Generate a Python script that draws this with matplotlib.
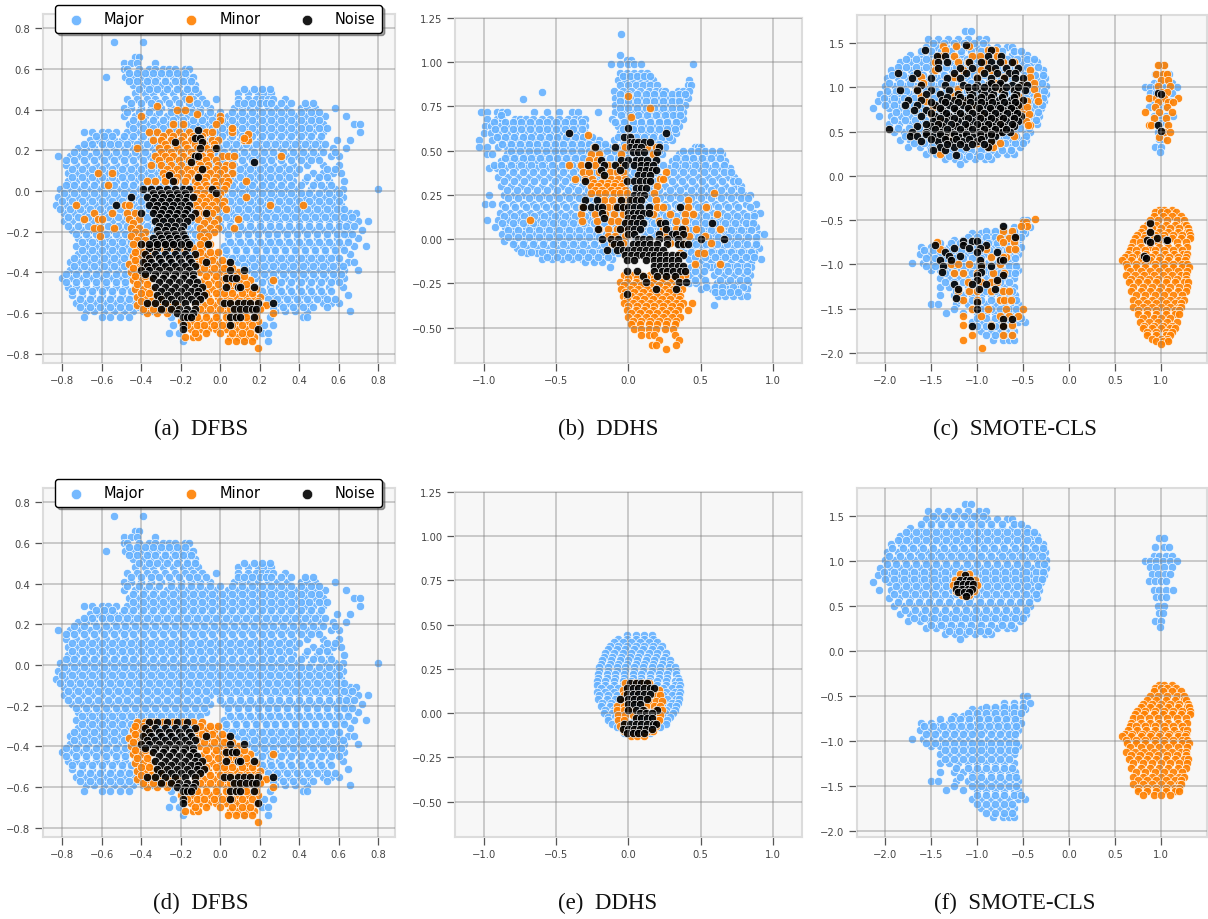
import matplotlib
matplotlib.use("Agg")
import matplotlib.pyplot as plt

BLUE = "#66b2ff"
ORANGE = "#ff8000"
BLACK = "#000000"

MAJOR_AD = [
(73,[-54,-39]),(66,[-43,-41]),(63,[-49,-45,-42,-33]),
(60,[-49,-47,-41,-36,-33,-29,-26,-23,-18,-16]),
(56,[-58,-48,-44,-40,-36,-32,-28,-24,-20,-16,-14]),
(52,[-44,-39,-35,-30,-26,-21,-17,-13]),
(48,[-43,-38,-34,-29,-24,-19,-15,-11,9,14,19,22,26]),
(45,[-47,-42,-37,-33,-28,-23,-18,-14,-9,-2,9,14,18,21,24,27,33]),
(41,[-49,-45,-40,-35,-30,-25,-20,-15,-10,-5,7,11,15,19,24,29,34,41,44,48,58]),
(37,[-49,-43,-38,-33,-27,-22,-17,-12,-7,-2,4,9,13,18,23,28,33,38,43,48,53,64]),
(33,[-46,-41,-36,-31,-26,-21,-16,-11,-6,-2,3,8,13,18,23,28,33,38,43,48,52,68,71]),
(29,[-69,-65,-60,-57,-53,-47,-42,-37,-32,-27,-22,-17,-12,-7,-2,3,8,13,18,23,28,33,38,43,47,52,71]),
(25,[-66,-62,-58,-54,-50,-45,-40,-35,-30,-25,-20,-15,-10,-5,0,5,10,15,20,25,30,35,40,45,50,59,66]),
(21,[-72,-68,-64,-59,-54,-49,-44,-39,-34,-29,-24,-19,-14,-9,-4,1,6,11,16,21,26,31,36,41,46,51,57,64]),
(17,[-82,-76,-71,-66,-61,-56,-51,-46,-41,-36,-31,-26,-21,-16,-11,-6,-1,4,9,14,19,24,29,34,39,44,49,56,60]),
(13,[-78,-73,-68,-63,-58,-53,-48,-43,-38,-33,-28,-23,-18,-13,-8,-3,2,7,12,17,22,27,32,37,44,52,60]),
(9,[-77,-72,-67,-62,-57,-52,-47,-42,-37,-32,-27,-22,-17,-12,-7,-2,3,8,13,18,23,28,33,38,47,52,57,61]),
(5,[-77,-73,-68,-63,-58,-53,-48,-43,-38,-33,-28,-23,-18,-13,-8,-3,2,7,12,17,22,27,32,37,43,49,55,63]),
(1,[-81,-76,-71,-66,-61,-56,-51,-46,-41,-36,-31,-26,-21,-16,-11,-6,-1,4,9,14,19,24,29,34,39,46,53,58,62,80]),
(-3,[-82,-77,-72,-67,-62,-57,-52,-47,-42,-37,-32,-27,-22,-17,-12,-7,-2,3,8,13,18,23,28,33,38,43,48,53,58,62]),
(-7,[-83,-78,-73,-68,-63,-58,-53,-48,-43,-38,-33,-28,-23,-18,-13,-8,-3,2,7,12,17,22,27,32,37,42,47,52,57,61]),
(-11,[-79,-74,-69,-64,-59,-54,-49,-44,-39,-34,-29,-24,-19,-14,-9,-4,1,6,11,16,21,26,31,36,41,46,51,56,61,66,69]),
(-15,[-79,-75,-70,-65,-60,-55,-50,-45,-40,-35,-30,-25,-20,-15,-10,-5,0,5,10,15,20,25,30,35,40,45,50,55,60,65,70,75]),
(-19,[-75,-70,-65,-60,-55,-50,-45,-40,-35,-30,-25,-20,-15,-10,-5,2,7,12,17,22,27,32,37,42,47,52,57,62,66,72]),
(-23,[-72,-67,-62,-57,-52,-47,-42,-37,-32,-27,-22,-17,-12,-7,4,9,14,19,24,29,34,39,44,49,54,59,65,70]),
(-27,[-73,-68,-63,-58,-53,-48,-43,-38,-33,-28,-23,-18,-13,2,7,12,17,22,27,32,37,42,47,52,57,62,68,74]),
(-31,[-72,-67,-62,-57,-52,-47,-42,-37,-32,-27,-22,-17,-12,-7,-2,3,8,13,18,23,28,33,38,43,48,53,58,66]),
(-35,[-76,-71,-66,-61,-56,-51,-46,-41,-36,-31,-26,-21,-16,-11,-6,-1,4,9,14,19,24,29,34,39,44,49,54,60,65,68]),
(-39,[-76,-72,-67,-62,-57,-52,-47,-42,-37,-12,15,20,25,30,35,40,45,50,55,60,63,70]),
(-43,[-80,-75,-70,-65,-60,-55,-50,-45,-40,18,23,28,33,38,43,48,53,58,63]),
(-47,[-77,-73,-68,-63,-58,-53,-48,-43,20,25,30,35,40,45,50,55,62]),
(-51,[-75,-70,-65,-60,-55,-50,-45,22,27,32,37,42,47,52,65]),
(-55,[-73,-68,-63,-58,-53,-48,-43,25,30,35,40,45,52,56,60]),
(-59,[-68,-64,-59,-54,-49,-44,-39,-34,28,33,38,44,66]),
(-62,[-69,-60,-56,-51,-46,-25,-20,-16,25,42,44]),
(-66,[-24,-18,22,27]),(-70,[-26,-21,21,24]),(-74,[-19,12,24]),
]
MAJOR_AD_FILL = [
(58,[-46,-42,-38,-34,-30,-26,-22,-18]),
(54,[-46,-42,-37,-33,-28,-23,-19,-15]),
(50,[-41,-36,-32,-27,-22,-17,-13,12,17,21,25]),
(43,[-45,-40,-35,-31,-26,-21,-16,-12,-7,9,12,16,20,23,26,31,36,43,47]),
(39,[-47,-41,-36,-31,-25,-20,-15,-10,-5,0,6,11,16,21,26,31,36,41,46,50]),
(35,[-44,-39,-34,-29,-24,-19,-14,-9,-4,1,6,11,16,21,26,31,36,41,46,50]),
(31,[-44,-39,-34,-29,-24,-19,-14,-9,-4,1,6,11,16,21,26,31,36,41,45,50,54]),
(27,[-63,-59,-55,-49,-44,-39,-34,-29,-24,-19,-14,-9,-4,1,6,11,16,21,26,31,36,41,46,51]),
(23,[-69,-65,-60,-56,-52,-47,-42,-37,-32,-27,-22,-17,-12,-7,-2,3,8,13,18,23,28,33,38,43,48,53]),
(19,[-74,-69,-63,-58,-53,-48,-43,-38,-33,-28,-23,-18,-13,-8,-3,2,7,12,17,22,27,32,37,42,47,52,58]),
(15,[-78,-74,-69,-64,-59,-54,-49,-44,-39,-34,-29,-24,-19,-14,-9,-4,1,6,11,16,21,26,31,36,41,46,50]),
(11,[-75,-70,-65,-60,-55,-50,-45,-40,-35,-30,-25,-20,-15,-10,-5,0,5,10,15,20,25,30,35,40,54,58]),
(7,[-75,-70,-65,-60,-55,-50,-45,-40,-35,-30,-25,-20,-15,-10,-5,0,5,10,15,20,25,30,35,44,50,54]),
(3,[-78,-74,-69,-64,-59,-54,-49,-44,-39,-34,-29,-24,-19,-14,-9,-4,1,6,11,16,21,26,31,36,41,47,51,56]),
(-1,[-79,-74,-69,-64,-59,-54,-49,-44,-39,-34,-29,-24,-19,-14,-9,-4,1,6,11,16,21,26,31,36,41,45,50,55,60]),
(-5,[-80,-75,-70,-65,-60,-55,-50,-45,-40,-35,-30,-25,-20,-15,-10,-5,0,5,10,15,20,25,30,35,40,45,50,55,60]),
(-9,[-81,-76,-71,-66,-61,-56,-51,-46,-41,-36,-31,-26,-21,-16,-11,-6,-1,4,9,14,19,24,29,34,39,44,49,54,59,63]),
(-13,[-77,-72,-67,-62,-57,-52,-47,-42,-37,-32,-27,-22,-17,-12,-7,-2,3,8,13,18,23,28,33,38,43,48,53,58,63,67]),
(-17,[-77,-72,-67,-62,-57,-52,-47,-42,-37,-32,-27,-22,-17,-12,-7,0,5,10,15,20,25,30,35,40,45,50,55,60,64,68]),
(-21,[-73,-68,-63,-58,-53,-48,-43,-38,-33,-28,-23,-18,-13,-8,4,9,14,19,24,29,34,39,44,49,54,59,63,67]),
(-25,[-70,-65,-60,-55,-50,-45,-40,-35,-30,-25,-20,-15,-10,5,10,15,20,25,30,35,40,45,50,55,60,65]),
(-29,[-70,-65,-60,-55,-50,-45,-40,-35,-30,-25,-20,-15,-10,3,8,13,18,23,28,33,38,43,48,53,58,63]),
(-33,[-74,-69,-64,-59,-54,-49,-44,-39,6,11,16,21,26,31,36,41,46,51,56,60]),
(-37,[-74,-69,-64,-59,-54,-49,-44,-39,12,17,22,27,32,37,42,47,52,57,62]),
(-41,[-78,-73,-68,-63,-58,-53,-48,-43,17,22,27,32,37,42,47,52,57,61]),
(-45,[-78,-73,-68,-63,-58,-53,-48,-43,21,26,31,36,41,46,51,56,60]),
(-49,[-75,-70,-65,-60,-55,-50,-45,21,26,31,36,41,46,51,56]),
(-53,[-71,-66,-61,-56,-51,-46,-41,24,29,34,39,44,49,54,58]),
(-57,[-71,-66,-61,-56,-51,-46,-41,-36,27,32,37,42,47,54]),
]
ORANGE_AD_LOW = [
(-28,[-42,-38,-34,-29,-24,-19,-14,-9]),
(-32,[-44,-40,-36,-12,-7,-3]),
(-36,[-46,-42,-38,-11,-6,-1,3]),
(-40,[-45,-41,-10,-5,0,4,9]),
(-44,[-44,-40,-36,-8,-3,1,5,10,15,27]),
(-48,[-43,-39,-35,-9,-4,0,5,10,14,18]),
(-52,[-42,-38,-34,-30,-10,-6,-1,3,8,13,17,20]),
(-56,[-42,-37,-32,-26,-22,-13,-8,-3,2,7,11,16,21,23]),
(-60,[-37,-32,-27,-12,-7,-2,3,8,13,18,27]),
(-64,[-20,-15,-10,-5,-1,4,9,14,19]),
(-68,[-15,-10,-6,-2,3,8,13,18]),
(-72,[-18,-14,-11,5,9,13,17]),
(-74,[4,8,12,16]),(-77,[19]),
(-30,[-43,-39,-10,-5,-1]),(-34,[-43,-38,-9,-4,1]),(-38,[-44,-40,-8,-3,2,6]),
(-42,[-43,-38,-7,-2,3,7,12]),(-46,[-42,-37,-6,-1,4,8,13]),(-50,[-40,-36,-7,-2,2,6,11,16]),
(-54,[-40,-35,-30,-11,-5,0,5,10,14,19]),(-58,[-39,-34,-29,-24,-10,-5,0,5,10,15,20]),
(-62,[-17,-12,-7,-2,3,8,13,18]),(-66,[-17,-12,-8,-3,1,6,11,16]),(-70,[-13,-7,0,6,11,15]),
]
ORANGE_A_UP = [
(45,[-16]),(42,[-32]),(40,[-22,-18]),(38,[-12]),(37,[-40,0]),(35,[0]),
(33,[-24,-19,-2]),
(29,[-36,-32,-26,-21,-16,-7,-4,6]),
(27,[-29,-24,-19,-14,-9]),
(25,[-34,-30,-25,-20,-15,-9,-4,-1,12,14]),
(23,[-28,-23,-18,-13,-8,-3]),
(21,[-42,-31,-27,-22,-17,-12,-7,-3]),
(19,[-30,-25,-20,-15,-10,-5]),
(17,[-33,-28,-24,-19,-14,-9,-5,1,4,7,31]),
(15,[-31,-26,-21,-16,-11,-7,-2]),
(13,[-35,-30,-25,-20,-15,-10,-6,-1,3,6]),
(11,[-27,-22,-17,-12,-7,-2,2]),
(9,[-62,-55,-29,-25,-20,-15,-10,-5,0,6]),
(7,[-28,-22,-17,-12,-7,-2,3]),
(5,[-37,-33,-28,-23,-18,-13,-8,-3,1,4,13]),
(3,[-57,-12,-7,-2,3]),
(1,[-14,-10,-6,-2,2]),
(-1,[-12,-8,-4,0]),
(-3,[-13,-9,-5,-1,13]),
(-5,[-11,-7,-2,2]),
(-7,[-73,-48,-46,-13,-8,-4,1,25,42]),
(-9,[-11,-6,-2,3]),
(-11,[-64,-55,-47,-43,-12,-8,-4]),
(-14,[-69,-62,-60,-46,-41,-11,-6,-1,9]),
(-16,[-44,-8,-3]),
(-18,[-64,-61,-54,-45,-41,-10,-5,-1,7]),
(-20,[-43,-38,-8,-3]),
(-22,[-61,-45,-40,-10,-6]),
(-24,[-42,-38,-8]),
(-26,[-44,-40,-10,-5]),
(31,[6]),(28,[14]),(26,[12]),
]
NOISE_AD_LOW = [
(-28,[-36,-32,-27,-22,-17]),
(-31,[-38,-33,-28,-23,-18,-13]),
(-33,[-36,-31,-26,-21,-16]),
(-35,[-39,-35,-30,-25,-20,-15,-7,5]),
(-37,[-37,-33,-28,-23,-18,-13]),
(-39,[-40,-36,-31,-26,-21,-16,5,12]),
(-41,[-38,-33,-28,-23,-18,-14]),
(-43,[-34,-29,-24,-19,-14,3,6,8]),
(-45,[-31,-26,-21,-16,-12]),
(-47,[-33,-28,-23,-18,-13,-9,3,9,10,17]),
(-49,[-30,-25,-20,-15,-11]),
(-51,[-32,-27,-22,-17,-12,-8]),
(-53,[-30,-25,-20,-15,-10]),
(-55,[-37,-33,-28,-23,-18,-13,2,5,9,12,15,19,27]),
(-58,[-30,-25,-21,-17,-13,7,10,13,16,18]),
(-60,[-22,-18,-14]),
(-62,[-19,-17,-15,5,8,10,17]),
(-66,[-19,5]),(-68,[-19,19]),
]
NOISE_A_UP = [
(30,[-11]),(26,[-13,-10]),(24,[-23,-9]),(21,[-10,-2]),
(17,[-13,-11]),(14,[-15,17]),(11,[-9]),(8,[-26]),(7,[-11]),(5,[-24]),
(1,[-39,-35,-31,-27,-23,-19,-16,-4]),
(-1,[-34,-30,-26,-22,-18,-2]),
(-3,[-45,-37,-33,-29,-25,-21,-17,-14]),
(-5,[-34,-30,-26,-22,-18]),
(-7,[-53,-36,-32,-28,-24,-20,-16]),
(-9,[-33,-29,-25,-21,-17]),
(-11,[-40,-34,-30,-26,-22,-18,-13,-7]),
(-13,[-31,-27,-23,-19,-15]),
(-15,[-33,-29,-25,-21,-17]),
(-17,[-31,-27,-23,-19]),
(-19,[-32,-28,-24,-20]),
(-21,[-31,-27,-23,-19]),
(-23,[-34,-30,-26,-22,-18]),
(-25,[-33,-29,-25,-21,-17]),
(-26,[-40,-36,-32,-28,-24,-20,-16,-6]),
]
MAJOR_B = [
(116,[-5]),(104,[-6]),(101,[-1,2]),(99,[-12,-6,0,4,9,45]),
(94,[-6,-1,4,9,13]),(90,[-7,-2,3,8,13,17,42]),(87,[-6,0,5,10,15,20,41,43]),
(84,[-10,-4,2,8,14,19,23,25,34,38,42]),(83,[-60]),
(80,[-9,-3,3,9,15,21,27,32,37,41]),(79,[-73]),
(76,[-9,-3,3,9,15,21,27,33,39]),
(72,[-102,-98,-91,-87,-84,-65,-56,-48,-39,-35,-21,-9,-3,3,9,15,21,27,33,38]),
(68,[-98,-91,-87,-78,-75,-71,-66,-60,-54,-48,-42,-37,-33,-30,-11,-4,3,9,15,21,27,33,38]),
(64,[-99,-95,-89,-83,-77,-71,-65,-59,-53,-47,-41,-36,-30,-7,-1,5,11,17,23,29,35]),
(60,[-100,-95,-90,-84,-78,-72,-66,-60,-54,-48,-42,-36,-30,-6,0,6,12,18,24,30,33]),
(56,[-103,-94,-88,-82,-76,-70,-64,-58,-52,-46,-40,-34,-28,-24,-20,-10,-4,2,8,14,20,26,30]),
(52,[-103,-98,-90,-84,-78,-72,-66,-60,-54,-48,-42,-36,-30,-24,-18,-14,-6,0,6,12,18,25,46,48,50]),
(48,[-98,-94,-84,-78,-72,-66,-60,-54,-48,-42,-36,-30,-24,-18,-12,-6,0,6,12,18,23,35,40,45,50,55,60,65]),
(44,[-88,-82,-76,-70,-64,-58,-52,-46,-40,-34,-28,-22,-16,-10,-4,2,8,14,20,30,36,42,48,54,60,67]),
(40,[-96,-91,-85,-78,-71,-64,-57,-50,-43,-36,-29,-22,-15,-8,-1,6,13,20,28,35,42,49,56,63,70]),
(35,[-90,-83,-76,-69,-62,-55,-48,-41,-34,-27,-20,-13,-6,1,8,15,21,27,34,41,48,55,62,69,73]),
(30,[-88,-81,-74,-67,-60,-53,-46,-39,-32,-25,-18,-11,-4,3,10,17,25,32,39,46,53,60,67,74,78]),
(25,[-96,-86,-79,-72,-65,-58,-51,-44,-37,-30,-23,-16,-9,-2,5,12,19,26,33,40,47,54,61,68,75,80,84]),
(20,[-99,-94,-87,-80,-73,-66,-59,-52,-45,-38,-31,-24,-17,-10,-3,4,11,18,25,32,39,46,53,60,67,74,81,88]),
(15,[-89,-82,-75,-68,-61,-54,-47,-40,-33,-26,-19,-12,-5,2,9,16,23,30,37,44,51,58,65,72,79,87,91]),
(11,[-98,-90,-83,-76,-69,-62,-55,-48,-41,-34,-27,-20,-13,-6,1,8,15,22,29,36,43,50,57,64,71,78,85]),
(7,[-92,-85,-78,-71,-64,-57,-50,-43,-36,-29,-22,-15,-8,-1,6,13,20,27,34,41,48,55,62,69,76,83,88]),
(3,[-87,-80,-73,-66,-59,-52,-45,-38,-31,-24,-17,-10,-3,4,11,18,25,32,39,46,53,60,67,74,81,90,94]),
(-1,[-86,-79,-72,-65,-58,-51,-44,-37,-30,-23,-16,-9,-2,5,12,30,37,44,51,58,65,72,79,88]),
(-5,[-77,-70,-63,-56,-49,-42,-35,-28,-21,-14,-7,0,37,44,51,58,65,72,79,86,90]),
(-8,[-70,-63,-56,-49,-42,-35,-28,-21,-14,-7,40,47,54,61,68,75,82,87]),
(-11,[-60,-53,-46,-39,-32,-25,-18,-11,42,49,56,63,70,77,84,92]),
(-13,[-30,-24,-18,50,57,64,71,78,85]),
(-16,[-13,43,48,57,64,71,78,85]),
(-20,[43,50,59,66,73,80,84]),
(-25,[42,47,54,61,68,75,83]),
(-28,[50,58,63,68,75,82]),
(-32,[62,67,72,78,82]),
(-37,[59]),
]
MAJOR_B_FILL = [
(92,[-4,1,6,11,15]),(82,[-6,0,6,12,18,24,30,35,39]),(78,[-6,0,6,12,18,24,30,35]),
(74,[-6,0,6,12,18,24,30,36]),(70,[-88,-5,1,7,13,19,25,31,36]),
(66,[-93,-85,-80,-74,-68,-62,-56,-50,-44,-38,-32,-9,-3,3,9,15,21,27,33]),
(62,[-92,-86,-80,-74,-68,-62,-56,-50,-44,-38,-32,-4,3,9,15,21,27,32]),
(58,[-91,-85,-79,-73,-67,-61,-55,-49,-43,-37,-31,-25,-7,-1,5,11,17,23,28]),
(54,[-87,-81,-75,-69,-63,-57,-51,-45,-39,-33,-27,-21,-16,-3,3,9,15,21]),
(50,[-81,-75,-69,-63,-57,-51,-45,-39,-33,-27,-21,-15,-9,-3,3,9,15,21,38,43,48,53,58,63]),
(46,[-85,-79,-73,-67,-61,-55,-49,-43,-37,-31,-25,-19,-13,-7,-1,5,11,17,33,39,45,51,57,63]),
(42,[-93,-88,-81,-74,-67,-60,-53,-46,-39,-32,-25,-18,-11,-4,3,10,17,24,32,39,46,53,60,66]),
(38,[-87,-80,-73,-66,-59,-52,-45,-38,-31,-24,-17,-10,-3,4,11,18,31,38,45,52,59,66,71]),
(33,[-86,-79,-72,-65,-58,-51,-44,-37,-30,-23,-16,-9,-2,5,12,19,30,37,44,51,58,65,72,76]),
(28,[-84,-77,-70,-63,-56,-49,-42,-35,-28,-21,-14,-7,0,7,14,21,29,36,43,50,57,64,71,78]),
(23,[-83,-76,-69,-62,-55,-48,-41,-34,-27,-20,-13,-6,1,8,15,22,29,36,43,50,57,64,71,78,83]),
(18,[-85,-78,-71,-64,-57,-50,-43,-36,-29,-22,-15,-8,-1,6,13,20,27,34,41,48,55,62,69,76,84]),
(13,[-86,-79,-72,-65,-58,-51,-44,-37,-30,-23,-16,-9,-2,5,12,19,26,33,40,47,54,61,68,75,82,87]),
(9,[-87,-80,-73,-66,-59,-52,-45,-38,-31,-24,-17,-10,-3,4,11,18,25,32,39,46,53,60,67,74,81,86]),
(5,[-83,-76,-69,-62,-55,-48,-41,-34,-27,-20,-13,-6,1,8,15,22,29,36,43,50,57,64,71,78,85]),
(1,[-83,-76,-69,-62,-55,-48,-41,-34,-27,-20,-13,-6,34,41,48,55,62,69,76,83,88]),
(-3,[-80,-73,-66,-59,-52,-45,-38,-31,-24,-17,-10,-3,40,47,54,61,68,75,82,88]),
(-7,[-74,-67,-60,-53,-46,-39,-32,-25,-18,-11,43,50,57,64,71,78,85]),
(-10,[-56,-49,-42,-35,-28,-21,-14,46,53,60,67,74,81,87]),
(-15,[47,54,61,68,75,82]),(-18,[46,52,62,69,76,82]),(-23,[46,53,63,70,77,82]),
(-27,[54,60,65,72,79]),(-30,[60,65,70,76]),
]
ORANGE_B = [
(81,[0]),(74,[15]),(69,[2]),(59,[-28]),
(52,[-24,-2,13,19]),(48,[-26,-20,-5,17]),
(45,[-27,-22]),
(42,[-41,-33,-28,-23,-14,-6]),
(38,[-31,-27,-20,-13,-8,-4,26]),
(34,[-37,-30,-25,-17,-12,-7,-2,22,24]),
(32,[-24,-19,-14,-9,-4]),
(30,[-26,-21,-15,-10,-5,20]),
(28,[-23,-18,-12,-7,-2]),
(26,[-26,-20,-16,-10,-6,-1,18,59]),
(22,[-17,-11,-5,-1,19,41]),
(18,[-32,-14,-9,-3,20,24,41,54]),
(14,[-33,-23,-16,-10,-4,17,29,39,45,61]),
(11,[-68]),
(10,[-32,-22,-12,-7,-1,21,33,39]),
(6,[-20,-14,-8,-2,24,33,39,47,63]),
(2,[-14,-9,-2,25,36,42,53]),
(-2,[-11,-4,29,38,57]),
(-8,[36,48,52]),(-14,[46,63]),
(-20,[-3,3,9,15,21,27,33,39]),
(-22,[0,6,12,18,24,30,36]),
(-24,[-6,-1,5,11,17,23,29,35]),
(-26,[-3,3,9,15,21,27,33]),
(-28,[-5,1,7,13,19,25,31,37]),
(-30,[-2,4,10,16,22,28,34]),
(-32,[-4,2,8,14,20,26,32,36]),
(-34,[-1,5,11,17,23,29,35]),
(-36,[-3,3,9,15,21,27,33,38,44]),
(-38,[0,6,12,18,24,30,36]),
(-40,[-1,5,11,17,23,29,34,41]),
(-42,[2,8,14,20,26,32]),
(-44,[0,6,12,18,24,30,36]),
(-46,[3,9,15,21,27,33]),
(-48,[2,8,14,20,26,32]),
(-51,[4,9,14,19,25,31]),
(-54,[9,14,18,32]),(-57,[21,35]),(-60,[16,19,33]),(-62,[26]),
]
NOISE_B = [
(63,[0]),(60,[-41,26]),(58,[-3,1]),(55,[1,4,7,11,15]),
(52,[-23,-9,1,5,9,21]),(49,[3,7,11,20]),(45,[-19,-5,0,5,9,13,19]),
(42,[-28,-17,-9,-2,4,9,13,17]),(39,[-19,-6,8,12,16,19]),(36,[-17,7,11,15]),
(33,[-30,-1,4,8,12,15]),(29,[5,9,12]),(25,[4,8,11]),
(22,[-30,-22,-5,1,5,9]),(18,[-31,-26,-21,-18,-8,-4,0,4,8,14,36]),
(15,[-18,0,3,7,10,14]),(12,[-17,0,4,8]),(9,[-2,2,6,10,22,25,58]),
(6,[-21,-6,0,4,8,26,37]),(3,[0,4,21,30,33,38]),
(0,[-18,-12,-7,7,10,14,21,27,34,50,66]),
(-3,[-10,-6,3,7,11,15,20,27,34,38,41]),
(-6,[-15,-8,-4,0,4,8,12,16,20,24]),
(-9,[-2,2,6,10,14,18,22,26,30,34,38]),
(-12,[-1,4,12,18,22,26,30,34]),
(-15,[18,22,26,30,34,38]),
(-18,[-1,6,18,23,27,31,36,39]),
(-21,[10,20,26,32]),(-24,[12,35,40]),(-28,[33,19]),(-31,[-1]),
]
MAJOR_E = [
(44,[-1,5,11,16]),(42,[-7,-1,5,11,17]),(40,[-10,-4,2,8,14,20]),(38,[-13,-7,-1,5,11,17,23]),
(36,[-14,-8,-2,4,10,16,22]),(34,[-16,-10,-4,2,8,14,20,26]),
(32,[-17,-11,-5,1,7,13,19,25]),(30,[-18,-12,-6,0,6,12,18,24,29]),(28,[-19,-13,-7,-1,5,11,17,23,29]),
(26,[-20,-14,-8,-2,4,10,16,22,28,32]),
(24,[-20,-14,-8,-2,4,10,16,22,28,33]),(22,[-21,-15,-9,-3,3,9,15,21,27,33]),(20,[-21,-15,-9,-3,3,9,15,21,27,34]),
(18,[-22,-16,-10,-4,2,8,14,20,26,32,35]),
(16,[-22,-16,-10,-4,2,8,14,20,26,32,36]),(14,[-19,-13,-7,24,30,35]),(12,[-22,-16,-10,-4,2,8,14,20,26,32,36]),
(10,[-20,-14,-8,24,30,35]),
(8,[-21,-15,-9,-3,3,9,15,21,27,33,35]),(6,[-18,-12,24,30,34]),(4,[-19,-13,-7,-1,5,11,17,23,29,33]),
(2,[-16,-10,26,32]),
(0,[-17,-11,-5,1,7,13,19,25,31]),(-2,[-14,-9,24,29]),(-4,[-14,-8,-2,4,10,16,22,27]),
(-6,[-11,22,26]),
(-8,[-8,-2,4,10,16,22]),(-11,[-3,3,9,15]),
]
ORANGE_E = [
(17,[-2,4,10,14]),(13,[-4,21]),(10,[-3,19,22]),(7,[-4,14,19,23]),
(4,[-8,-3,12,18,22]),(2,[-8,-3,2,11,19,23]),(-1,[-7,-2,3,20,22]),
(-4,[-7,-3,20,21]),(-7,[-6,-2,19]),(-10,[-3,3,10,15,17]),(-13,[2,6,11]),
]
NOISE_E = [
(17,[1,5,9,13]),(14,[-1,3,7,11,15,18]),(11,[-1,3,7,11,15]),(8,[-6,0,4,8,13]),
(5,[0,4,8]),(2,[0,5,10,20]),(0,[8,12,16]),(-3,[5,9,13,16]),
(-6,[-3,1,5,9,13,17,19]),(-9,[-4,0,4,8,12,16]),(-11,[-1,3,7,11]),
]
MAJOR_CF = [
(163,[-113,-106]),
(155,[-153,-142,-131,-120,-109,-98,-90]),
(146,[-155,-144,-133,-122,-111,-100,-89,-78,-67,-62]),
(137,[-172,-161,-150,-139,-128,-117,-106,-95,-84,-73,-62,-51,-45]),
(128,[-183,-172,-161,-150,-139,-128,-117,-106,-95,-84,-73,-62,-51,-40,-35]),
(119,[-193,-182,-171,-160,-149,-138,-127,-116,-105,-94,-83,-72,-61,-50,-39,-28]),
(110,[-197,-186,-175,-164,-153,-142,-131,-120,-109,-98,-87,-76,-65,-54,-43,-32,-26]),
(101,[-200,-189,-178,-167,-156,-145,-134,-123,-112,-101,-90,-79,-68,-57,-46,-35,-25]),
(92,[-205,-194,-183,-172,-161,-150,-139,-128,-117,-106,-95,-84,-73,-62,-51,-40,-29,-25]),
(84,[-207,-196,-185,-174,-163,-152,-141,-130,-119,-108,-97,-86,-75,-64,-53,-42,-31,-27]),
(77,[-213,-195,-184,-173,-162,-151,-140,-129,-118,-107,-96,-85,-74,-63,-52,-41,-30]),
(68,[-206,-193,-182,-171,-160,-149,-138,-127,-116,-105,-94,-83,-72,-61,-50,-39,-32]),
(59,[-195,-184,-173,-162,-151,-140,-129,-118,-107,-96,-85,-74,-63,-52,-41,-35]),
(50,[-190,-179,-168,-157,-146,-135,-124,-113,-102,-91,-80,-69,-58,-47,-42]),
(41,[-183,-172,-161,-150,-139,-128,-117,-106,-95,-84,-73,-62,-53,-47]),
(33,[-175,-162,-151,-140,-129,-118,-107,-96,-85,-74,-63,-53]),
(25,[-155,-144,-133,-122,-111,-100,-89,-78,-67,-60]),
(19,[-135,-124,-113,-102,-91,-85]),(13,[-118]),
(-50,[-50,-45]),(-58,[-70,-60,-50,-42]),
(-65,[-105,-95,-85,-75,-65,-55,-48]),
(-72,[-125,-115,-105,-95,-85,-75,-65,-55]),
(-80,[-160,-150,-140,-130,-120,-110,-100,-90,-80,-70,-60,-52]),
(-88,[-162,-152,-142,-132,-122,-112,-102,-92,-82,-72,-62,-55]),
(-98,[-170,-158,-148,-138,-128,-118,-108,-98,-88,-78,-68,-60]),
(-106,[-150,-140,-130,-120,-110,-100,-90,-80,-70,-60,-55]),
(-115,[-140,-130,-120,-110,-100,-90,-80,-70,-60]),
(-125,[-140,-130,-120,-110,-100,-90,-80,-70,-60]),
(-135,[-140,-125,-115,-105,-95,-85,-75,-65,-58]),
(-145,[-150,-142,-122,-110,-100,-90,-80,-70,-60,-55]),
(-155,[-133,-115,-100,-90,-80,-70,-60,-55]),
(-165,[-105,-95,-85,-75,-65,-55,-48]),
(-175,[-95,-85,-75,-65,-60]),(-185,[-82,-72,-65,-60]),
(125,[98,103]),(115,[93,103,109]),(105,[92,98,105,112]),
(100,[83,88,95,102,110,117]),(93,[88,95,103,112]),(85,[90,97,104,110]),
(78,[87,94,100,106]),(68,[92,98,105,113]),(60,[95,100,105]),
(50,[97,103]),(42,[98,102]),(33,[93,100]),(27,[99]),
]
MAJOR_CF_FILL = [
(150,[-148,-136,-125,-114,-103,-93]),
(141,[-160,-150,-139,-128,-117,-106,-95,-84,-73,-60,-52]),
(132,[-177,-166,-155,-144,-133,-122,-111,-100,-89,-78,-67,-56,-45,-38]),
(123,[-186,-177,-166,-155,-144,-133,-122,-111,-100,-89,-78,-67,-56,-45,-34]),
(114,[-192,-180,-169,-158,-147,-136,-125,-114,-103,-92,-81,-70,-59,-48,-37,-28]),
(105,[-195,-183,-172,-161,-150,-139,-128,-117,-106,-95,-84,-73,-62,-51,-40,-29]),
(96,[-197,-188,-177,-166,-155,-144,-133,-122,-111,-100,-89,-78,-67,-56,-45,-34,-27]),
(88,[-201,-190,-179,-168,-157,-146,-135,-124,-113,-102,-91,-80,-69,-58,-47,-36,-28]),
(80,[-200,-190,-179,-168,-157,-146,-135,-124,-113,-102,-91,-80,-69,-58,-47,-36,-29]),
(72,[-188,-177,-166,-155,-144,-133,-122,-111,-100,-89,-78,-67,-56,-45,-34]),
(63,[-190,-178,-167,-156,-145,-134,-123,-112,-101,-90,-79,-68,-57,-46,-36]),
(54,[-185,-174,-163,-152,-141,-130,-119,-108,-97,-86,-75,-64,-53,-43]),
(45,[-178,-167,-156,-145,-134,-123,-112,-101,-90,-79,-68,-57,-47]),
(37,[-168,-157,-146,-135,-124,-113,-102,-91,-80,-69,-58,-50]),
(29,[-150,-139,-128,-117,-106,-95,-84,-73,-63]),
(22,[-130,-119,-108,-97,-88]),
(-62,[-90,-80,-70,-60,-50]),(-69,[-110,-100,-90,-80,-70,-60,-52]),
(-76,[-140,-128,-118,-108,-98,-88,-78,-68,-58]),
(-84,[-157,-147,-137,-127,-117,-107,-97,-87,-77,-67,-57]),
(-93,[-155,-145,-135,-125,-115,-105,-95,-85,-75,-65,-58]),
(-102,[-155,-145,-135,-125,-115,-105,-95,-85,-75,-65,-57]),
(-110,[-135,-125,-115,-105,-95,-85,-75,-65,-58]),
(-120,[-135,-125,-115,-105,-95,-85,-75,-65]),
(-130,[-122,-110,-100,-90,-80,-70,-62]),
(-140,[-118,-105,-95,-85,-75,-65,-57]),
(-150,[-125,-105,-95,-85,-75,-65,-57]),
(-160,[-100,-90,-80,-70,-60,-52]),
(-170,[-100,-90,-80,-70,-62]),(-180,[-90,-80,-70,-62]),
]
ORANGE_CF = [
(-38,[98,103,112]),
(-41,[94,100,107,116]),
(-45,[92,102,112,122]),
(-50,[88,97,107,117,125]),
(-55,[85,95,105,115,125,127]),
(-59,[81,90,100,110,120,129]),
(-63,[78,88,98,108,118,128,130]),
(-67,[74,83,93,103,113,123,131]),
(-70,[72,82,92,102,112,122,132]),
(-75,[70,77,87,97,107,117,127]),
(-80,[68,78,88,98,108,118,128]),
(-84,[66,73,83,93,103,113,123]),
(-88,[64,74,84,94,104,114,124,128]),
(-92,[61,69,79,89,99,109,119,127]),
(-95,[58,68,78,88,98,108,118,126]),
(-99,[62,73,83,93,103,113,123,128]),
(-103,[63,73,83,93,103,113,123,130]),
(-107,[66,78,88,98,108,118,128]),
(-112,[62,72,82,92,102,112,122,127]),
(-116,[67,77,87,97,107,117,127]),
(-120,[65,75,85,95,105,115,125,129]),
(-125,[70,80,90,100,110,120,128]),
(-130,[68,78,88,98,108,118,127]),
(-135,[73,83,93,103,113,123]),
(-140,[70,80,90,100,110,120,125]),
(-144,[75,85,95,105,115,122]),
(-148,[70,80,90,100,110,120,122]),
(-152,[75,85,95,105,115,120]),
(-156,[75,85,95,105,115,120]),(-160,[80,92,100,110]),
]
ORANGE_C_TAIL = [
(-165,[77,87,97,107,117]),(-169,[82,92,102,112]),(-172,[80,90,100,110,115]),(-176,[85,95,105,112]),
(-180,[85,95,105,110]),(-184,[90,100,107]),(-187,[95,102,108]),(-190,[100]),
]
ORANGE_C_REST = [
(147,[-137,-122,-108]),(142,[-135,-88,-80]),(135,[-140,-125,-105,-97,-78]),
(128,[-145,-120,-110,-92,-72,-60]),(120,[-145,-115,-95,-85,-42]),
(112,[-160,-125,-100,-70,-42]),(105,[-158,-80,-50,-38]),(98,[-165,-120,-75,-38]),
(90,[-160,-125,-85,-55,-35]),(85,[-155,-115,-50,-33,-45]),(78,[-148,-105,-52,-45]),
(70,[-150,-95,-50,-43]),(62,[-140,-75,-47]),(57,[-42,-44]),(45,[-130,-60]),
(37,[-85,-75,-100]),(33,[-88,-82]),(25,[-140]),
(125,[103,97]),(115,[95,102,107]),(108,[100,108]),(102,[97,110]),(95,[100,107]),
(88,[87,95,103,118]),(83,[97,108,113]),(78,[93,107]),(72,[83,98,112]),
(65,[92,105]),(57,[87,89,108]),(50,[103,110]),(44,[98]),(40,[107]),
(-49,[-37]),(-52,[-50,-46]),(-57,[-45,-52]),(-62,[-72,-62]),(-70,[-75,-65,-58]),
(-75,[-143,-72,-60]),(-83,[-140,-90,-65,-58]),(-92,[-85,-68,-72]),
(-100,[-128,-120,-108,-95,-75]),(-110,[-125,-115,-100,-82,-70]),
(-120,[-110,-95,-85,-78]),(-130,[-120,-108,-100,-85,-72,-65]),
(-140,[-115,-100,-75,-70,-63]),(-150,[-105,-88,-68,-50]),
(-158,[-115,-95,-75,-65,-55]),(-168,[-115,-85,-62,-72]),(-180,[-105,-72,-62]),
(-185,[-115]),(-194,[-94]),
]
NOISE_C = [
(148,[-112]),(142,[-156,-85]),(135,[-143,-135,-88,-74]),
(129,[-142,-132,-108,-95,-84,-75,-62]),(122,[-142,-118,-105,-88,-80,-68,-55]),
(116,[-185,-165,-125,-112,-92,-78,-65,-58]),(110,[-170,-150,-132,-118,-100,-84,-70,-58,-50]),
(103,[-160,-135,-115,-100,-88,-75,-62,-52,-45]),(97,[-183,-165,-150,-130,-108,-95,-85,-73,-60,-48]),
(92,[-155,-140,-120,-105,-92,-82,-70,-57]),(86,[-175,-160,-138,-125,-112,-100,-88,-76,-63,-50]),
(80,[-178,-165,-145,-130,-115,-102,-90,-78,-66,-55]),(74,[-168,-155,-138,-122,-108,-96,-84,-72,-60]),
(68,[-160,-145,-130,-115,-100,-88,-76,-62,-52]),(62,[-148,-135,-120,-105,-92,-80,-68,-55]),
(56,[-165,-150,-138,-122,-110,-95,-83,-72,-60]),(50,[-170,-155,-140,-128,-115,-100,-88,-76,-64,-73]),
(45,[-172,-165,-148,-135,-120,-105,-92,-80]),(39,[-160,-142,-128,-115,-100,-85]),
(33,[-140,-125,-112,-88]),(29,[-148,-135]),(24,[-122]),(53,[-195]),
(105,[-85,-75]),
(100,[-110,-102,-92,-80,-68,-55]),(89,[-132,-118,-107,-95,-85,-73,-60]),
(83,[-150,-135,-120,-107,-95,-83,-70,-58]),(77,[-140,-125,-110,-98,-86,-75,-63]),
(71,[-150,-133,-118,-105,-92,-80,-67,-56]),(65,[-140,-125,-110,-97,-85,-72,-60]),
(59,[-155,-142,-128,-113,-100,-88,-75,-62]),(53,[-145,-132,-118,-105,-92,-80,-68]),
(47,[-155,-140,-125,-112,-97,-85]),(42,[-150,-135,-122,-108,-95]),(36,[-132,-118,-105,-92]),
(94,[97]),(92,[100]),(57,[97]),(51,[100]),
(-57,[-72]),(-69,[-58]),(-74,[-115,-105,-100]),(-78,[-145,-115,-90]),
(-82,[-125,-108,-97]),(-86,[-135,-100,-78]),(-90,[-130,-118]),
(-95,[-140,-128,-97,-75,-72]),(-102,[-137,-95,-85]),(-108,[-138,-95]),
(-112,[-72,-100]),(-118,[-100,-78]),(-122,[-125,-105,-90]),(-128,[-120,-98,-80]),
(-138,[-122]),(-142,[-100]),(-150,[-100]),(-162,[-72,-62]),(-170,[-105,-85,-72]),
(-53,[88]),(-63,[88]),(-70,[96]),(-72,[85,105,107]),(-75,[88]),(-91,[82]),(-93,[84]),
]
ORANGE_F_BLOB = [
(85,[-118,-108]),(79,[-124,-102]),(73,[-126,-100]),(67,[-123,-103]),(62,[-116,-108]),
]
NOISE_F_BLOB = [
(84,[-113]),(79,[-118,-112,-107]),(74,[-121,-115,-109,-104]),
(69,[-122,-116,-110,-105]),(65,[-120,-114,-108]),(61,[-112]),
]


def unpack(*tables):
    xs, ys = [], []
    for rows in tables:
        for y, row in rows:
            for x in row:
                xs.append(x / 100)
                ys.append(y / 100)
    return xs, ys


TICKS_A = [-0.8, -0.6, -0.4, -0.2, 0, 0.2, 0.4, 0.6, 0.8]
TICKS_BX = [-1, -0.5, 0, 0.5, 1]
TICKS_BY = [-0.5, -0.25, 0, 0.25, 0.5, 0.75, 1, 1.25]
TICKS_CX = [-2, -1.5, -1, -0.5, 0, 0.5, 1]
TICKS_CY = [-2, -1.5, -1, -0.5, 0, 0.5, 1, 1.5]

PANELS = [
    dict(box=(43, 395, 15, 364), xlim=(-0.898, 0.886), ylim=(-0.846, 0.87), xt=TICKS_A, yt=TICKS_A,
         xf="%.1f", yf="%.1f", major=[MAJOR_AD, MAJOR_AD_FILL], minor=[ORANGE_AD_LOW, ORANGE_A_UP],
         noise=[NOISE_AD_LOW, NOISE_A_UP], cap="(a)  DFBS", capx=201, capy=429, legend=True),
    dict(box=(455, 802, 19, 364), xlim=(-1.198, 1.2), ylim=(-0.70, 1.25), xt=TICKS_BX, yt=TICKS_BY,
         xf="%.1f", yf="%.2f", major=[MAJOR_B, MAJOR_B_FILL], minor=[ORANGE_B], noise=[NOISE_B],
         cap="(b)  DDHS", capx=608, capy=429, legend=False),
    dict(box=(857, 1207, 16, 364), xlim=(-2.30, 1.50), ylim=(-2.113, 1.816), xt=TICKS_CX, yt=TICKS_CY,
         xf="%.1f", yf="%.1f", major=[MAJOR_CF, MAJOR_CF_FILL], minor=[ORANGE_CF, ORANGE_C_TAIL, ORANGE_C_REST],
         noise=[NOISE_C], cap="(c)  SMOTE-CLS", capx=1015, capy=429, legend=False),
    dict(box=(43, 395, 489, 838), xlim=(-0.898, 0.886), ylim=(-0.846, 0.87), xt=TICKS_A, yt=TICKS_A,
         xf="%.1f", yf="%.1f", major=[MAJOR_AD, MAJOR_AD_FILL], minor=[ORANGE_AD_LOW], noise=[NOISE_AD_LOW],
         cap="(d)  DFBS", capx=201, capy=903, legend=True),
    dict(box=(455, 802, 493, 838), xlim=(-1.198, 1.2), ylim=(-0.70, 1.25), xt=TICKS_BX, yt=TICKS_BY,
         xf="%.1f", yf="%.2f", major=[MAJOR_E], minor=[ORANGE_E], noise=[NOISE_E],
         cap="(e)  DDHS", capx=608, capy=903, legend=False),
    dict(box=(857, 1207, 489, 838), xlim=(-2.30, 1.50), ylim=(-2.07, 1.81), xt=TICKS_CX, yt=TICKS_CY,
         xf="%.1f", yf="%.1f", major=[MAJOR_CF, MAJOR_CF_FILL], minor=[ORANGE_CF, ORANGE_F_BLOB], noise=[NOISE_F_BLOB],
         cap="(f)  SMOTE-CLS", capx=1015, capy=903, legend=False),
]

W, H = 1208, 920
fig = plt.figure(figsize=(W / 100, H / 100), dpi=100, facecolor="white")


def fmt(v, f):
    return (f % v).replace("-", "\u2212")


for p in PANELS:
    l, r, t, b = p["box"]
    ax = fig.add_axes([l / W, 1 - b / H, (r - l) / W, (b - t) / H])
    ax.set_facecolor("#f7f7f7")
    style = dict(s=36, edgecolors="white", linewidths=0.5, alpha=0.9, zorder=2)
    for tables, col, lab in ((p["major"], BLUE, "Major"), (p["minor"], ORANGE, "Minor"), (p["noise"], BLACK, "Noise")):
        xs, ys = unpack(*tables)
        ax.scatter(xs, ys, c=col, label=lab, **style)
    ax.set_xlim(*p["xlim"])
    ax.set_ylim(*p["ylim"])
    ax.set_xticks(p["xt"], [fmt(v, p["xf"]) for v in p["xt"]])
    ax.set_yticks(p["yt"], [fmt(v, p["yf"]) for v in p["yt"]])
    ax.tick_params(labelsize=7.2, labelcolor="#444444", color="#555555", length=6, width=0.9, pad=3)
    for v in p["xt"]:
        ax.axvline(v, color="#808080", alpha=0.45, lw=1.2, zorder=3)
    for v in p["yt"]:
        ax.axhline(v, color="#808080", alpha=0.45, lw=1.2, zorder=3)
    for s in ax.spines.values():
        s.set_color("#dcdcdc")
        s.set_linewidth(1.5)
    if p["legend"]:
        leg = ax.legend(loc="upper center", bbox_to_anchor=(0.4986, 1.026), ncol=3, frameon=True, fancybox=True,
                        shadow=True, framealpha=1, edgecolor="black", facecolor="white", fontsize=10.5,
                        markerscale=1.25, handletextpad=0.92, columnspacing=2.2, borderpad=0.44,
                        scatterpoints=1, borderaxespad=0)
        leg.get_frame().set_linewidth(1.0)
        leg.set_zorder(10)
    fig.text(p["capx"] / W, 1 - p["capy"] / H, p["cap"], ha="center", va="center",
             family="Liberation Serif", fontsize=16.5, color="#111111")

fig.savefig("out.png", dpi=100)
